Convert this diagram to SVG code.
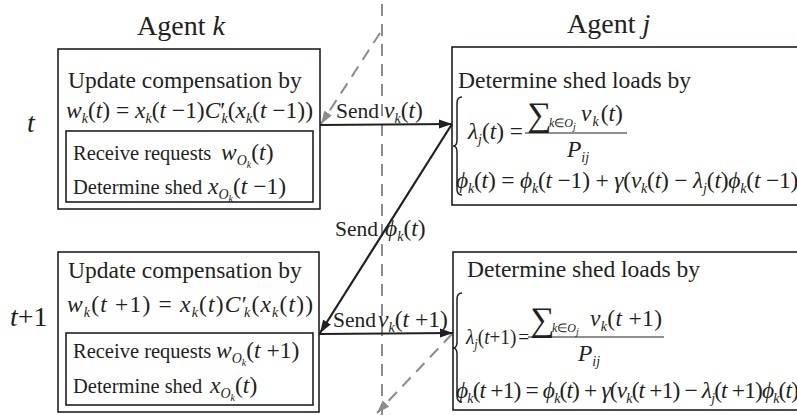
<svg xmlns="http://www.w3.org/2000/svg" width="797" height="415" viewBox="0 0 797 415">
<defs>
<style>
.t{font-family:"Liberation Serif","Times New Roman",serif;font-size:23.5px;fill:#231f20}
.h{font-size:28px}
.m{font-size:20.5px}
.snd{font-size:21.5px}
.i{font-style:italic}
.s{font-size:14px;font-style:italic}
.s2{font-size:12px;font-style:italic}
.ss{font-size:10px;font-style:italic}
.box{fill:none;stroke:#231f20;stroke-width:1.6}
.ar{fill:none;stroke:#231f20;stroke-width:2.2}
.gd{fill:none;stroke:#8c8c8c;stroke-width:2;stroke-dasharray:12 8}
.bar{stroke:#231f20;stroke-width:1.2}
</style>
<marker id="ab" markerUnits="userSpaceOnUse" markerWidth="14" markerHeight="10" refX="13" refY="5" orient="auto"><path d="M0,0.5 L13,5 L0,9.5 Z" fill="#231f20"/></marker>
<marker id="ag" markerUnits="userSpaceOnUse" markerWidth="14" markerHeight="10" refX="13" refY="5" orient="auto"><path d="M0,0.5 L13,5 L0,9.5 Z" fill="#8c8c8c"/></marker>
</defs>

<g id="titles">
<text class="t h" x="137" y="35">Agent <tspan class="i">k</tspan></text>
<text class="t h" x="567" y="33">Agent <tspan class="i">j</tspan></text>
<text class="t h i" x="27" y="132">t</text>
<text class="t h" x="10" y="326"><tspan class="i">t</tspan>+1</text>
</g>

<g id="connectors">
<line class="gd" x1="382" y1="4" x2="382" y2="415"/>
<line class="gd" x1="380" y1="33" x2="321" y2="124" marker-end="url(#ag)"/>
<line class="gd" x1="452" y1="334" x2="377" y2="413" marker-end="url(#ag)"/>
<line class="ar" x1="320" y1="125" x2="452" y2="124" marker-end="url(#ab)"/>
<line class="ar" x1="452" y1="124" x2="320" y2="333" marker-end="url(#ab)"/>
<line class="ar" x1="319" y1="334" x2="453" y2="333" marker-end="url(#ab)"/>
<text class="t" x="336" y="118"><tspan class="snd">Send</tspan><tspan class="i" x="384">ν</tspan><tspan class="s" dy="5">k</tspan><tspan dy="-5">(</tspan><tspan class="i">t</tspan>)</text>
<text class="t" x="335" y="236"><tspan class="snd">Send</tspan><tspan class="i" x="385">ϕ</tspan><tspan class="s" dy="5">k</tspan><tspan dy="-5">(</tspan><tspan class="i">t</tspan>)</text>
<text class="t" x="333" y="327"><tspan class="snd">Send</tspan><tspan class="i" x="378">ν</tspan><tspan class="s" dy="5">k</tspan><tspan dy="-5">(</tspan><tspan class="i">t</tspan> +1)</text>
</g>

<g id="agent-k-t">
<rect class="box" x="58" y="49" width="262" height="160"/>
<rect class="box" x="66" y="131" width="247" height="71"/>
<text class="t" x="68" y="88">Update compensation by</text>
<text class="t" x="66" y="118" textLength="247"><tspan class="i">w</tspan><tspan class="s" dy="5">k</tspan><tspan dy="-5">(</tspan><tspan class="i">t</tspan>) = <tspan class="i">x</tspan><tspan class="s" dy="5">k</tspan><tspan dy="-5">(</tspan><tspan class="i">t</tspan> −1)<tspan class="i">C</tspan>′<tspan class="s" dx="-4" dy="5">k</tspan><tspan dy="-5">(</tspan><tspan class="i">x</tspan><tspan class="s" dy="5">k</tspan><tspan dy="-5">(</tspan><tspan class="i">t</tspan> −1))</text>
<text class="t" x="73" y="160"><tspan class="m">Receive requests</tspan><tspan class="i" x="221">w</tspan><tspan class="s" dy="5">O</tspan><tspan class="ss" dy="3">k</tspan><tspan dy="-8">(</tspan><tspan class="i">t</tspan>)</text>
<text class="t" x="73" y="194"><tspan class="m">Determine shed</tspan><tspan class="i" x="208">x</tspan><tspan class="s" dy="5">O</tspan><tspan class="ss" dy="3">k</tspan><tspan dy="-8">(</tspan><tspan class="i">t</tspan> −1)</text>
</g>

<g id="agent-k-t1">
<rect class="box" x="58" y="252" width="261" height="160"/>
<rect class="box" x="66" y="333" width="247" height="72"/>
<text class="t" x="68" y="278">Update compensation by</text>
<text class="t" x="67" y="312" textLength="246"><tspan class="i">w</tspan><tspan class="s" dy="5">k</tspan><tspan dy="-5">(</tspan><tspan class="i">t</tspan> +1) = <tspan class="i">x</tspan><tspan class="s" dy="5">k</tspan><tspan dy="-5">(</tspan><tspan class="i">t</tspan>)<tspan class="i">C</tspan>′<tspan class="s" dx="-4" dy="5">k</tspan><tspan dy="-5">(</tspan><tspan class="i">x</tspan><tspan class="s" dy="5">k</tspan><tspan dy="-5">(</tspan><tspan class="i">t</tspan>))</text>
<text class="t" x="73" y="358"><tspan class="m">Receive requests</tspan><tspan class="i" x="216">w</tspan><tspan class="s" dy="5">O</tspan><tspan class="ss" dy="3">k</tspan><tspan dy="-8">(</tspan><tspan class="i">t</tspan> +1)</text>
<text class="t" x="73" y="393"><tspan class="m">Determine shed</tspan><tspan class="i" x="210">x</tspan><tspan class="s" dy="5">O</tspan><tspan class="ss" dy="3">k</tspan><tspan dy="-8">(</tspan><tspan class="i">t</tspan>)</text>
</g>

<g id="agent-j-t">
<rect class="box" x="452" y="47" width="360" height="158"/>
<text class="t" x="458" y="88">Determine shed loads by</text>
<path d="M462,97 Q457,97 457,103 L457,140 Q457,146 453,146 Q457,146 457,152 L457,189 Q457,195 462,195" fill="none" stroke="#231f20" stroke-width="1.5"/>
<text class="t" x="468" y="139" textLength="55" lengthAdjust="spacingAndGlyphs"><tspan class="i">λ</tspan><tspan class="s" dy="5">j</tspan><tspan dy="-5">(</tspan><tspan class="i">t</tspan>) =</text>
<text class="t" x="527" y="126" style="font-size:34px">∑</text>
<text class="t s2" x="549" y="127">k<tspan style="font-style:normal">∈</tspan>O<tspan class="ss" dy="3">j</tspan></text>
<text class="t" x="581" y="121"><tspan class="i">ν</tspan><tspan class="s" dx="1" dy="5">k</tspan><tspan dx="2" dy="-5">(</tspan><tspan class="i">t</tspan>)</text>
<line class="bar" x1="525" y1="133" x2="627" y2="133"/>
<text class="t" x="567" y="157"><tspan class="i">P</tspan><tspan class="s" dy="5">ij</tspan></text>
<text class="t" x="456" y="188" textLength="350"><tspan class="i">ϕ</tspan><tspan class="s" dy="5">k</tspan><tspan dy="-5">(</tspan><tspan class="i">t</tspan>) = <tspan class="i">ϕ</tspan><tspan class="s" dy="5">k</tspan><tspan dy="-5">(</tspan><tspan class="i">t</tspan> −1) + <tspan class="i">γ</tspan>(<tspan class="i">ν</tspan><tspan class="s" dy="5">k</tspan><tspan dy="-5">(</tspan><tspan class="i">t</tspan>) − <tspan class="i">λ</tspan><tspan class="s" dy="5">j</tspan><tspan dy="-5">(</tspan><tspan class="i">t</tspan>)<tspan class="i">ϕ</tspan><tspan class="s" dy="5">k</tspan><tspan dy="-5">(</tspan><tspan class="i">t</tspan> −1))</text>
</g>

<g id="agent-j-t1">
<rect class="box" x="453" y="252" width="360" height="158"/>
<text class="t" x="467" y="277">Determine shed loads by</text>
<path d="M462,293 Q457,293 457,299 L457,342 Q457,348 453,348 Q457,348 457,354 L457,396 Q457,402 462,402" fill="none" stroke="#231f20" stroke-width="1.5"/>
<text class="t" x="466" y="344" style="font-size:22px" textLength="63" lengthAdjust="spacingAndGlyphs"><tspan class="i">λ</tspan><tspan class="s" dy="5">j</tspan><tspan dy="-5">(</tspan><tspan class="i">t</tspan>+1)<tspan dx="2">=</tspan></text>
<text class="t" x="530" y="331" style="font-size:34px">∑</text>
<text class="t s2" x="552" y="332">k<tspan style="font-style:normal">∈</tspan>O<tspan class="ss" dy="3">j</tspan></text>
<text class="t" x="590" y="326" textLength="72"><tspan class="i">ν</tspan><tspan class="s" dy="5">k</tspan><tspan dy="-5">(</tspan><tspan class="i">t</tspan> +1)</text>
<line class="bar" x1="528" y1="337" x2="664" y2="337"/>
<text class="t" x="578" y="361"><tspan class="i">P</tspan><tspan class="s" dy="5">ij</tspan></text>
<text class="t" x="456" y="398" textLength="350"><tspan class="i">ϕ</tspan><tspan class="s" dy="5">k</tspan><tspan dy="-5">(</tspan><tspan class="i">t</tspan> +1) = <tspan class="i">ϕ</tspan><tspan class="s" dy="5">k</tspan><tspan dy="-5">(</tspan><tspan class="i">t</tspan>) + <tspan class="i">γ</tspan>(<tspan class="i">ν</tspan><tspan class="s" dy="5">k</tspan><tspan dy="-5">(</tspan><tspan class="i">t</tspan> +1) − <tspan class="i">λ</tspan><tspan class="s" dy="5">j</tspan><tspan dy="-5">(</tspan><tspan class="i">t</tspan> +1)<tspan class="i">ϕ</tspan><tspan class="s" dy="5">k</tspan><tspan dy="-5">(</tspan><tspan class="i">t</tspan>))</text>
</g>
</svg>
